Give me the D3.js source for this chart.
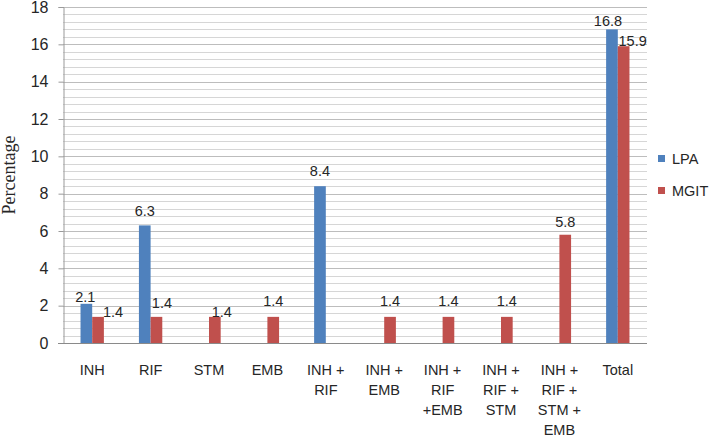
<!DOCTYPE html>
<html>
  <head>
    <meta charset="utf-8">
    <style type="text/css">
      body { margin: 0; background: #fff; }
      svg { display: block; }
      text { font-family: "Liberation Sans", Arial, sans-serif; fill: #262626; }
      .y-title { font-family: "Liberation Serif", "Times New Roman", serif; font-size: 18px; }
      .cat-label { font-size: 14.5px; }
      .val-label { font-size: 14.5px; }
      .legend text { font-size: 14.5px; }
    </style>
  </head>
  <body>
    <script src="https://d3js.org/d3.v7.min.js"></script>
    <script>
    // data
    var categories = ["INH", "RIF", "STM", "EMB", "INH + RIF", "INH + EMB",
                      "INH + RIF +EMB", "INH + RIF + STM", "INH + RIF + STM + EMB", "Total"];
    var categoryLines = [["INH"], ["RIF"], ["STM"], ["EMB"], ["INH +", "RIF"], ["INH +", "EMB"],
                         ["INH +", "RIF", "+EMB"], ["INH +", "RIF +", "STM"],
                         ["INH +", "RIF +", "STM +", "EMB"], ["Total"]];
    var seriesNames = ["LPA", "MGIT"];
    var lpaValues  = [2.1, 6.3, null, null, 8.4, null, null, null, null, 16.8];
    var mgitValues = [1.4, 1.4, 1.4, 1.4, null, 1.4, 1.4, 1.4, 5.8, 15.9];
    var yTicks = [0, 2, 4, 6, 8, 10, 12, 14, 16, 18];

    // label nudges [dx, dy from bar top], mimicking the original placement
    var lpaNudge  = [[-1, -2], [0, -9], null, null, [0, -10], null, null, null, null, [-4, -3]];
    var mgitNudge = [[15, 0], [5.5, -9], [7, 0], [0, -11], null, [0, -11], [0, -11], [0, -11], [0, -8], [9, 0]];

    var colors = ["#4F81BD", "#C0504D"];

    var W = 709, H = 437;
    var plot = {left: 63, right: 647, top: 7, bottom: 343};

    var svg = d3.select("body").append("svg")
        .attr("width", W)
        .attr("height", H);

    var x = d3.scaleBand()
        .domain(categories)
        .range([plot.left, plot.right]);

    var y = d3.scaleLinear()
        .domain([0, 18])
        .range([plot.bottom, plot.top]);

    // minor grid every 0.4, major every 2
    var minor = d3.range(0, 18.01, 0.4).map(function(v) { return +v.toFixed(1); });
    svg.append("g").selectAll("line")
        .data(minor)
        .enter().append("line")
        .attr("x1", plot.left).attr("x2", plot.right)
        .attr("y1", function(d) { return Math.round(y(d)) + 0.5; })
        .attr("y2", function(d) { return Math.round(y(d)) + 0.5; })
        .attr("stroke", function(d) { return (Math.abs(d % 2) < 1e-6) ? "#bdbdbd" : "#d6d6d6"; })
        .attr("stroke-width", 1);

    // y axis
    var yAxis = d3.axisLeft(y)
        .tickValues(yTicks)
        .tickSize(5)
        .tickPadding(10);

    var yg = svg.append("g")
        .attr("transform", "translate(" + (plot.left + 0.5) + ",0)")
        .call(yAxis);
    yg.select(".domain").attr("stroke", "#9a9a9a");
    yg.selectAll(".tick line").attr("stroke", "#9a9a9a");
    yg.selectAll(".tick text")
        .style("font-family", "'Liberation Sans', Arial, sans-serif")
        .style("font-size", "16px")
        .attr("fill", "#262626");

    // x axis line
    svg.append("line")
        .attr("x1", plot.left - 5).attr("x2", plot.right)
        .attr("y1", plot.bottom + 0.5).attr("y2", plot.bottom + 0.5)
        .attr("stroke", "#8a8a8a");

    // bars
    var groupW = x.bandwidth() * 0.4;
    var barW = groupW / 2;
    var allSeries = [lpaValues, mgitValues];
    var allNudge = [lpaNudge, mgitNudge];

    allSeries.forEach(function(vals, si) {
      var rows = categories.map(function(c, i) { return {cat: c, v: vals[i], n: allNudge[si][i]}; })
          .filter(function(d) { return d.v != null; });

      var bx = function(d) { return x(d.cat) + (x.bandwidth() - groupW) / 2 + si * barW; };

      svg.append("g").selectAll("rect")
          .data(rows)
          .enter().append("rect")
          .attr("x", bx)
          .attr("y", function(d) { return y(d.v); })
          .attr("width", barW)
          .attr("height", function(d) { return y(0) - y(d.v); })
          .attr("fill", colors[si]);

      svg.append("g").selectAll("text")
          .data(rows)
          .enter().append("text")
          .attr("class", "val-label")
          .attr("text-anchor", "middle")
          .attr("x", function(d) { return bx(d) + barW / 2 + (d.n ? d.n[0] : 0); })
          .attr("y", function(d) { return y(d.v) + (d.n ? d.n[1] : -6); })
          .text(function(d) { return d.v.toFixed(1); });
    });

    // category labels
    var cat = svg.append("g").selectAll("text")
        .data(categories)
        .enter().append("text")
        .attr("class", "cat-label")
        .attr("text-anchor", "middle")
        .attr("transform", function(d) { return "translate(" + (x(d) + x.bandwidth() / 2) + ",375)"; });
    cat.selectAll("tspan")
        .data(function(d, i) { return categoryLines[i]; })
        .enter().append("tspan")
        .attr("x", 0)
        .attr("y", function(d, i) { return i * 20; })
        .text(function(d) { return d; });

    // y title
    svg.append("text")
        .attr("class", "y-title")
        .attr("text-anchor", "middle")
        .attr("transform", "translate(15,175) rotate(-90)")
        .text("Percentage");

    // legend
    var legend = svg.append("g").attr("class", "legend");
    seriesNames.forEach(function(name, i) {
      var ly = 155 + i * 32;
      legend.append("rect")
          .attr("x", 658).attr("y", ly)
          .attr("width", 7).attr("height", 7)
          .attr("fill", colors[i]);
      legend.append("text")
          .attr("x", 672).attr("y", ly + 8.5)
          .text(name);
    });
    </script>
  </body>
</html>
